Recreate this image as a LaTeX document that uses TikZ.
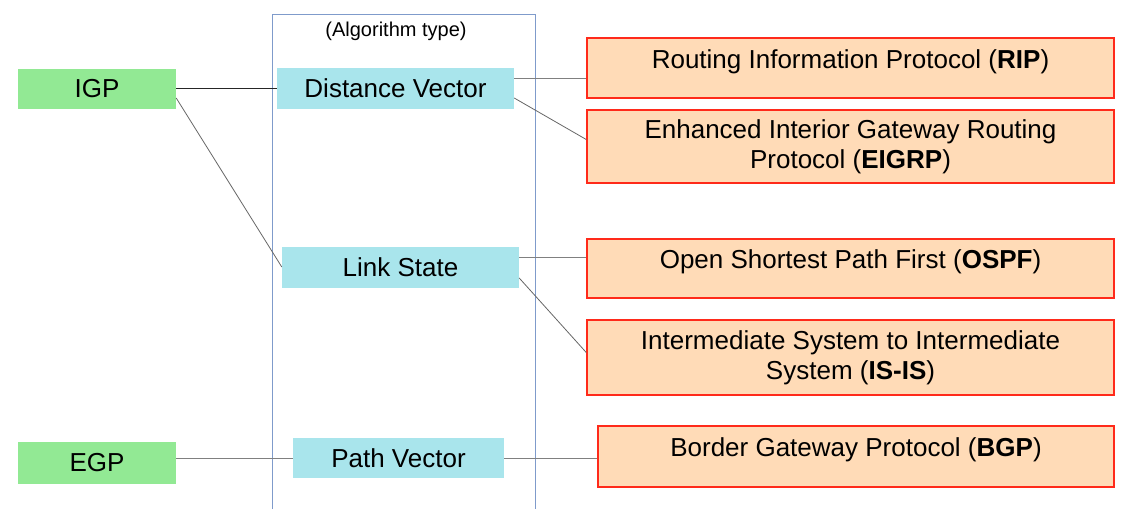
\documentclass[tikz,border=0pt]{standalone}
\usepackage{fontspec}
\setmainfont{Liberation Sans}
\definecolor{igpgreen}{HTML}{92E994}
\definecolor{algcyan}{HTML}{A9E5EC}
\definecolor{protofill}{HTML}{FFDBB7}
\definecolor{protoline}{HTML}{FF2A1A}
\definecolor{framecol}{HTML}{7F9BCB}
\tikzset{
    igpbox/.style={fill=igpgreen, inner sep=0pt, minimum width=158pt, font=\fontsize{26}{30}\selectfont},
    algbox/.style={fill=algcyan, inner sep=0pt, minimum height=41pt, font=\fontsize{26}{30}\selectfont},
    protobox/.style={draw=protoline, line width=1.5pt, fill=protofill, inner sep=0pt, align=center,
        font=\fontsize{26}{30}\selectfont},
    link/.style={draw=gray, line width=0.8pt}
}
\begin{document}
\begin{tikzpicture}[x=1pt, y=-1pt]
    \useasboundingbox (0,0) rectangle (1133,509);
    \draw[framecol, line width=1pt] (272,509) -- (272,14) -- (535,14) -- (535,509);
    \node (algtype) at (396,31) {\fontsize{20}{24}\selectfont (Algorithm type)};
    \node[igpbox, minimum height=40pt] (IGP) at (97,89) {IGP};
    \node[igpbox, minimum height=42pt] (EGP) at (97,463) {EGP};
    \node[algbox, minimum width=237pt] (DV) at (395.5,88) {Distance Vector};
    \node[algbox, minimum width=237pt] (LS) at (400.5,267) {Link State};
    \node[algbox, minimum width=211pt, minimum height=40pt] (PV) at (398.5,458) {Path Vector};
    \node[protobox, minimum width=527pt, text height=30pt, text depth=30pt] (RIP) at (850.5,68)
        {Routing Information Protocol (\textbf{RIP})};
    \node[protobox, minimum width=527pt, minimum height=73pt] (EIGRP) at (850.5,146.5)
        {Enhanced Interior Gateway Routing\\Protocol (\textbf{EIGRP})};
    \node[protobox, minimum width=527pt, text height=29.5pt, text depth=29.5pt] (OSPF) at (850.5,268.5)
        {Open Shortest Path First (\textbf{OSPF})};
    \node[protobox, minimum width=527pt, minimum height=75pt] (ISIS) at (850.5,357.5)
        {Intermediate System to Intermediate\\System (\textbf{IS-IS})};
    \node[protobox, minimum width=516pt, text height=30.5pt, text depth=30.5pt] (BGP) at (856,456.5)
        {Border Gateway Protocol (\textbf{BGP})};
    % IGP / EGP to algorithm type
    \draw[link, draw=black!85] (IGP.east |- DV.west) -- (DV.west);
    \draw[link, draw=black!60] ([yshift=-9pt]IGP.east) -- (LS.west);
    \draw[link] (EGP.east |- PV.west) -- (PV.west);
    % algorithm type to protocols
    \draw[link] ([yshift=10pt]DV.east) -- ([yshift=-10pt]RIP.west);
    \draw[link, draw=black!60] ([yshift=-10pt]DV.east) -- ([yshift=7pt]EIGRP.west);
    \draw[link] ([yshift=10pt]LS.east) -- ([yshift=11.5pt]OSPF.west);
    \draw[link, draw=black!60] ([yshift=-11pt]LS.east) -- ([yshift=5pt]ISIS.west);
    \draw[link] (PV.east) -- (PV.east -| BGP.west);
\end{tikzpicture}
\end{document}
